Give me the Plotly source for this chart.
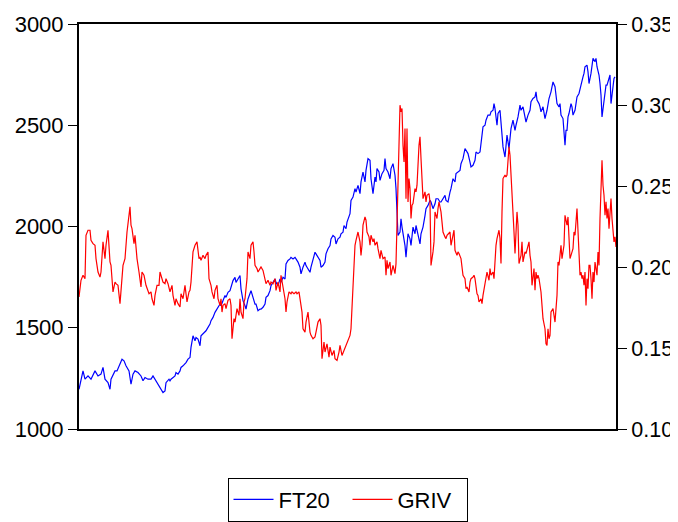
import plotly.graph_objects as go

FT20_DAY = [0,4,6,9,12,14,16,19,22,24,26,29,31,32,36,38,41,43,45,47,50,52,54,56,59,62,64,66,69,72,74,76,79,82,84,86,87,90,
            91,92,94,96,97,99,101,102,104,106,107,109,111,112,114,116,117,119,121,122,124,126,127,129,131,132,134,136,137,139,141,142,144,146,147,149,151,152,154,156,157,159,161,162,164,166,167,169,171,172,174,176,177,179,181,
            182,184,186,187,189,191,192,194,196,197,199,201,202,204,206,207,209,211,212,214,216,217,219,221,222,224,226,227,229,231,232,234,236,237,239,241,242,244,246,247,249,251,252,254,256,257,259,261,262,264,265,267,268,
            271,272,274,276,277,279,281,282,284,286,287,289,291,292,294,296,297,298,300,301,303,305,306,307,309,311,312,314,316,317,318,319,321,322,323,324,326,327,329,331,332,334,336,337,339,341,342,344,346,347,349,351,352,354,356,357,359,361,
            362,364,366,367,369,371,372,374,376,377,379,381,382,384,386,387,389,391,392,394,396,397,399,401,402,404,406,407,409,411,412,414,415,416,418,419,421,422,424,426,427,428,430,431,432,434,436,437,439,441,442,444,446,447,449,451,
            452,454,456,457,458,460,461,462,464,465,466,468,469,470,472,473,474,476,477,478,480,481,482,484,485,486,487,488,489,490,492,493,494,496,497,498,500,501,502,504,505,506,508,509,510,512,513,514,516,517,518,520,521,522,523,524,526,527,528,530,531,532,534,535,536]

FT20 = [1196,1287,1246,1262,1246,1271,1287,1262,1271,1304,1246,1229,1196,1246,1287,1287,1320,1345,1337,1312,1287,1221,1271,1287,1279,1262,1238,1254,1246,1246,1262,1246,1221,1196,1180,1188,1229,1246,
        1238,1246,1254,1262,1279,1271,1287,1304,1312,1320,1328,1345,1353,1403,1460,1436,1452,1444,1411,1460,1469,1477,1485,1502,1518,1535,1551,1576,1584,1601,1617,1609,1634,1659,1650,1675,1683,1700,1733,1749,1724,1741,1758,1692,1634,1609,1592,1642,1675,1683,1650,1617,1617,1584,1592,
        1592,1601,1617,1650,1659,1683,1708,1724,1741,1724,1708,1741,1724,1749,1741,1815,1832,1840,1848,1840,1848,1840,1824,1799,1766,1799,1824,1807,1791,1774,1799,1840,1873,1865,1848,1832,1799,1807,1824,1865,1890,1906,1939,1956,1947,1914,1939,1947,1964,1972,2005,1989,2022,
        2063,2129,2145,2187,2170,2203,2162,2220,2269,2220,2277,2335,2327,2236,2162,2244,2220,2286,2269,2228,2261,2277,2335,2286,2269,2236,2286,2310,2253,2187,2038,1956,1972,2038,1997,1972,1906,1848,1964,1939,1906,1997,1964,2005,1956,1914,1964,1997,2054,2088,2104,2129,2121,2088,2112,2137,2137,2121,
        2121,2137,2154,2129,2121,2170,2187,2236,2220,2261,2269,2277,2310,2335,2385,2376,2360,2318,2294,2302,2327,2368,2360,2368,2418,2492,2500,2525,2550,2550,2566,2574,2607,2582,2500,2558,2574,2516,2393,2343,2426,2451,2385,2442,2483,2525,2475,2500,2541,2599,2574,2591,2525,2516,2550,2574,
        2616,2632,2640,2665,2624,2607,2591,2566,2591,2566,2533,2574,2607,2632,2665,2698,2714,2690,2657,2607,2591,2607,2550,2533,2467,2401,2475,2475,2541,2558,2607,2591,2550,2574,2607,2640,2657,2690,2698,2739,2756,2789,2797,2764,2706,2756,2797,2830,2814,2830,2789,2748,2706,2649,2541,2574,2665,2698,2698,2731,2748,2607,2682,2731,2739]

GRIV_DAY = [0,2,4,6,7,9,11,12,14,16,17,19,21,22,24,26,27,29,31,32,34,36,37,39,41,42,44,46,48,51,52,53,55,56,58,60,62,63,65,67,70,72,73,75,76,78,80,81,82,84,86,87,89,91,
            93,94,96,97,99,101,102,104,106,107,108,110,111,112,114,116,117,118,120,121,122,124,126,127,129,130,132,133,135,136,138,139,141,142,143,144,146,147,149,151,152,153,155,156,158,160,161,162,164,165,166,168,169,171,172,174,175,176,178,179,181,
            182,184,186,187,189,191,192,194,196,197,199,201,202,204,206,207,208,210,212,213,215,217,218,220,222,223,224,226,227,229,231,232,234,236,237,239,241,242,243,245,246,248,250,251,253,255,256,258,260,261,263,265,266,268,270,271,
            272,273,274,276,277,279,281,282,283,284,286,287,288,290,291,292,294,295,296,298,299,301,302,304,306,307,308,309,311,312,314,315,316,317,318,319,320,321,322,323,324,325,326,327,328,329,330,331,332,333,334,336,337,338,340,341,342,343,344,346,347,348,350,351,352,354,355,356,358,359,360,
            362,363,364,366,367,368,370,371,372,374,375,376,378,379,380,382,383,384,386,387,388,390,391,392,394,395,396,398,399,400,402,403,404,406,407,408,410,411,412,414,415,416,417,418,420,421,422,423,424,426,427,428,429,430,431,432,434,435,436,438,439,440,442,443,444,446,447,448,450,451,
            452,453,454,455,456,457,458,459,460,462,463,464,466,467,468,469,470,471,472,474,475,476,478,479,480,482,483,484,485,486,488,489,490,491,492,494,495,496,498,499,500,501,502,503,504,505,506,507,508,509,510,511,512,513,514,515,516,518,519,520,521,522,523,524,525,526,527,528,529,530,531,532,533,534,535,536,537]

GRIV = [0.1815,0.1918,0.1949,0.1928,0.2196,0.2227,0.2227,0.2165,0.2144,0.2134,0.2052,0.1969,0.1938,0.1969,0.2155,0.2052,0.2134,0.2227,0.2031,0.2010,0.1846,0.1907,0.1897,0.1887,0.1774,0.1846,0.2010,0.2052,0.2216,0.2371,0.2258,0.2237,0.2144,0.2196,0.2052,0.1969,0.1877,0.1969,0.1949,0.1887,0.1835,0.1846,0.1804,0.1763,0.1825,0.1887,0.1887,0.1969,0.1949,0.1907,0.1897,0.1928,0.1897,0.1846,
        0.1887,0.1825,0.1763,0.1804,0.1774,0.1753,0.1835,0.1804,0.1887,0.1825,0.1784,0.1846,0.1856,0.1907,0.2093,0.2134,0.2144,0.2155,0.2052,0.2062,0.2041,0.2072,0.2052,0.2072,0.2093,0.1928,0.1887,0.1846,0.1804,0.1856,0.1887,0.1804,0.1763,0.1804,0.1722,0.1763,0.1774,0.1743,0.1794,0.1804,0.1763,0.1557,0.1681,0.1660,0.1743,0.1701,0.1804,0.1722,0.1681,0.1784,0.1804,0.1928,0.2093,0.2052,0.2134,0.2155,0.2093,0.2010,0.1990,0.1969,0.1990,
        0.2000,0.1979,0.1928,0.1897,0.1918,0.1887,0.1907,0.1897,0.1928,0.1856,0.1907,0.1846,0.1949,0.1887,0.1804,0.1722,0.1784,0.1846,0.1835,0.1846,0.1835,0.1846,0.1835,0.1846,0.1763,0.1722,0.1619,0.1598,0.1660,0.1722,0.1598,0.1578,0.1557,0.1568,0.1598,0.1660,0.1681,0.1640,0.1434,0.1537,0.1475,0.1526,0.1444,0.1506,0.1454,0.1485,0.1434,0.1423,0.1475,0.1516,0.1454,0.1485,0.1506,0.1526,0.1557,0.1578,
        0.1619,0.1763,0.1804,0.2134,0.2165,0.2216,0.2155,0.2072,0.2134,0.2258,0.2309,0.2289,0.2216,0.2186,0.2134,0.2196,0.2155,0.2175,0.2134,0.2155,0.2113,0.2052,0.2103,0.2052,0.2062,0.1949,0.2041,0.1990,0.2031,0.1949,0.2010,0.1969,0.1959,0.2021,0.2258,0.2505,0.2752,0.2999,0.2958,0.2979,0.2752,0.2649,0.2855,0.2422,0.2855,0.2402,0.2546,0.2484,0.2299,0.2381,0.2391,0.2484,0.2464,0.2505,0.2752,0.2804,0.2670,0.2505,0.2422,0.2464,0.2402,0.2443,0.2453,0.2402,0.2010,0.2093,0.2155,0.2340,0.2299,0.2361,0.2402,
        0.2340,0.2258,0.2216,0.2186,0.2175,0.2196,0.2206,0.2216,0.2134,0.2196,0.2227,0.2103,0.2072,0.2093,0.2083,0.2052,0.2010,0.1949,0.1928,0.1866,0.1877,0.1846,0.1907,0.1928,0.1938,0.1949,0.1928,0.1835,0.1825,0.1784,0.1804,0.1774,0.1825,0.1887,0.1928,0.1969,0.1918,0.1990,0.1949,0.1969,0.1928,0.2072,0.2134,0.2175,0.2227,0.2175,0.2021,0.2340,0.2546,0.2567,0.2556,0.2567,0.2690,0.2742,0.2690,0.2587,0.2361,0.2216,0.2083,0.2340,0.2258,0.2021,0.2072,0.2155,0.2031,0.2093,0.2083,0.2103,0.2155,0.2072,
        0.2031,0.1887,0.1928,0.1990,0.1856,0.1969,0.1928,0.1949,0.1928,0.1846,0.1763,0.1681,0.1619,0.1526,0.1516,0.1619,0.1557,0.1578,0.1722,0.1743,0.1701,0.1660,0.1825,0.2031,0.2010,0.2134,0.2052,0.2093,0.2134,0.2319,0.2258,0.2309,0.2134,0.2052,0.2072,0.2113,0.2216,0.2196,0.2361,0.2216,0.2031,0.1949,0.1969,0.1928,0.1949,0.1887,0.1969,0.1763,0.1928,0.1866,0.2010,0.2010,0.1928,0.1804,0.1969,0.1907,0.2031,0.1949,0.2093,0.2010,0.2299,0.2505,0.2659,0.2505,0.2443,0.2319,0.2402,0.2299,0.2361,0.2237,0.2340,0.2422,0.2299,0.2216,0.2155,0.2186,0.2124]

LEFT_TICKS = [1000, 1500, 2000, 2500, 3000]
RIGHT_TICKS = [0.10, 0.15, 0.20, 0.25, 0.30, 0.35]

FONT = "Liberation Sans, Arial, sans-serif"

fig = go.Figure()
fig.add_trace(go.Scatter(x=FT20_DAY, y=FT20, mode="lines", name="FT20",
                         line=dict(color="#0000FF", width=1.2)))
fig.add_trace(go.Scatter(x=GRIV_DAY, y=GRIV, mode="lines", name="GRIV", yaxis="y2",
                         line=dict(color="#FF0000", width=1.2)))

# the page body adds an 8px margin, so the figure is sized to fill the rest of the window
fig.update_layout(
    width=670, height=514,
    paper_bgcolor="white", plot_bgcolor="white",
    margin=dict(l=71, r=62, t=16, b=93, autoexpand=False),
    font=dict(family=FONT, size=22, color="black"),
    showlegend=True,
    legend=dict(orientation="h", x=0.5, xanchor="center", y=-0.12, yanchor="top",
                bordercolor="black", borderwidth=1, font=dict(size=22),
                itemwidth=40, entrywidth=64, tracegroupgap=0),
    xaxis=dict(range=[0, 537], showgrid=False, zeroline=False, showticklabels=False,
               ticks="", showline=True, linecolor="black", linewidth=2, mirror=True,
               automargin=False),
    yaxis=dict(range=[1000, 3000], tickvals=LEFT_TICKS, showgrid=False, zeroline=False,
               ticks="outside", ticklen=9, tickwidth=1, tickcolor="black",
               showline=True, linecolor="black", linewidth=2,
               tickfont=dict(size=22), automargin=False),
    yaxis2=dict(range=[0.10, 0.35], tickvals=RIGHT_TICKS, tickformat=".2f",
                overlaying="y", side="right", showgrid=False, zeroline=False,
                ticks="outside", ticklen=9, tickwidth=1, tickcolor="black",
                showline=True, linecolor="black", linewidth=2, ticklabelstandoff=0,
                tickfont=dict(size=21.5), automargin=False),
)

fig.write_html("out.html")
